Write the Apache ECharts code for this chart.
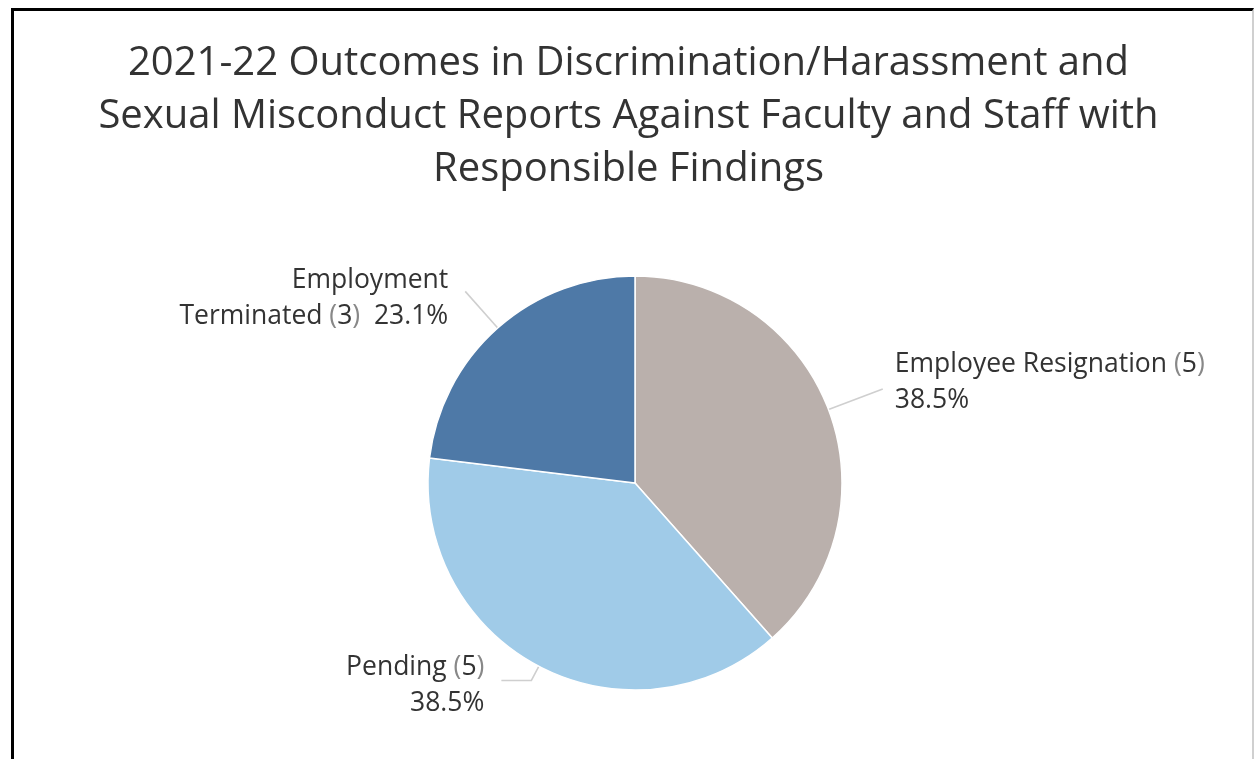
<!DOCTYPE html>
<html>
<head>
<meta charset="utf-8">
<script src="https://cdn.jsdelivr.net/npm/echarts@6/dist/echarts.min.js"></script>
<style>
  html, body { margin: 0; padding: 0; background: #fff; }
  #frame { position: absolute; left: 11px; top: 8px; width: 1243px; height: 760px;
           border-top: 3px solid #000; border-left: 3px solid #000; border-right: 2px solid #d0d0d0; box-sizing: border-box; }
  #chart { position: absolute; left: 0; top: 0; width: 1257px; height: 759px; }
</style>
</head>
<body>
<div id="frame"></div>
<div id="chart"></div>
<script>
const titleLines = [
  "2021-22 Outcomes in Discrimination/Harassment and",
  "Sexual Misconduct Reports Against Faculty and Staff with",
  "Responsible Findings"
];
const categories = ["Employee Resignation", "Pending", "Employment Terminated"];
const counts = [5, 5, 3];
const percents = ["38.5%", "38.5%", "23.1%"];
const colors = ["#BAB0AC", "#A0CBE8", "#4E79A7"];

const labelTemplates = [
  n => `{t|Employee Resignation }{p|(}{t|${n.count}}{p|)}\n{t|${n.pct}}`,
  n => `{t|Pending }{p|(}{t|${n.count}}{p|)}\n{t|${n.pct}}`,
  n => `{t|Employment}\n{t|Terminated }{p|(}{t|${n.count}}{p|)}{t|  ${n.pct}}`
];
const labelAlign = ["left", "right", "right"];
// leader line styling per slice: [length, length2, gap to text, vertical text nudge]
const leader = [[58, 0, 12, -7], [16, 30, 17, 5], [49, 0, 17, 7]];

const chart = echarts.init(document.getElementById('chart'));
chart.setOption({
  animation: false,
  title: {
    text: titleLines.join("\n"),
    left: 'center',
    top: 32,
    textStyle: { fontFamily: 'Open Sans', fontSize: 40, fontWeight: 'normal', color: '#333', lineHeight: 53 }
  },
  series: [{
    type: 'pie',
    center: [635, 483],
    radius: 207,
    startAngle: 90,
    clockwise: true,
    avoidLabelOverlap: false,
    itemStyle: { borderColor: '#fff', borderWidth: 1.5 },
    labelLine: { show: true, lineStyle: { color: '#cfcfcf', width: 1.6 } },
    labelLayout: p => ({ dy: leader[p.dataIndex][3] }),
    data: categories.map((c, i) => ({
      name: c,
      value: counts[i],
      itemStyle: { color: colors[i] },
      labelLine: { length: leader[i][0], length2: leader[i][1] },
      label: {
        show: true,
        position: 'outside',
        align: labelAlign[i],
        distanceToLabelLine: leader[i][2],
        formatter: labelTemplates[i]({ count: counts[i], pct: percents[i] }),
        rich: {
          t: { fontFamily: 'Open Sans', fontSize: 26.5, color: '#333', lineHeight: 36, align: labelAlign[i] },
          p: { fontFamily: 'Open Sans', fontSize: 26.5, color: '#888', lineHeight: 36 }
        }
      }
    }))
  }]
});
</script>
</body>
</html>
